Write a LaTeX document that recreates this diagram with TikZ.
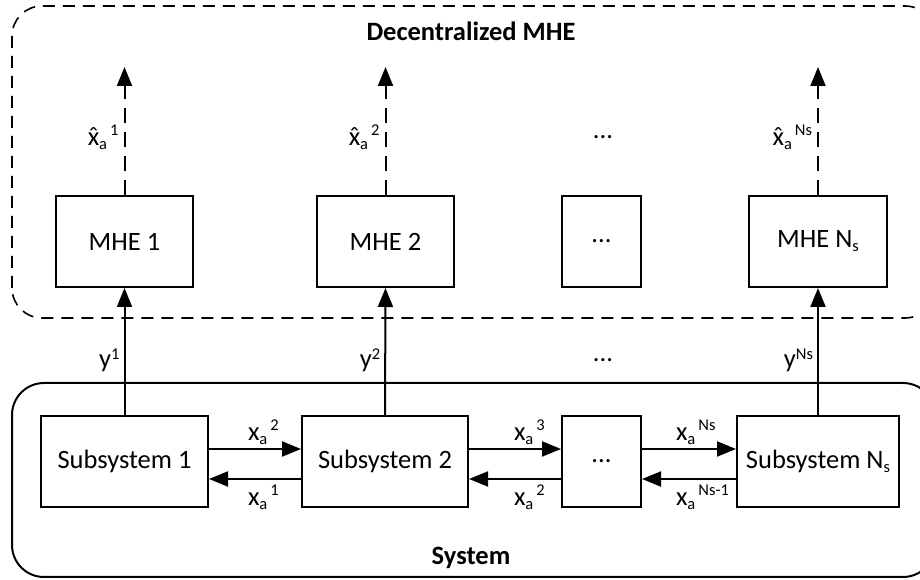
\documentclass[tikz,border=0pt]{standalone}
\usepackage{fontspec}
\setmainfont{Carlito}
\usetikzlibrary{arrows.meta,positioning}

% small lowered / raised text as in the drawing
\newcommand{\lowtxt}[1]{\raisebox{-4pt}{\fontsize{16.5pt}{16.5pt}\selectfont #1}}
\newcommand{\hightxt}[2][10pt]{\raisebox{#1}{\fontsize{16.5pt}{16.5pt}\selectfont #2}}
\newcommand{\xhat}{\ooalign{x\cr\hidewidth ˆ\hidewidth\cr}}
\newcommand{\xa}[1]{x\lowtxt{a}\hspace{3pt}\hightxt{#1}}
\newcommand{\xh}[1]{\xhat\lowtxt{a}\hspace{3pt}\hightxt{#1}}
\newcommand{\yo}[1]{y\hightxt[8pt]{#1}}

\tikzset{
  block/.style={draw,line width=2pt,minimum height=91pt,inner sep=0pt},
  sig/.style={line width=2pt,-{Triangle[length=19pt,width=15pt]}},
  est/.style={sig,dash pattern=on 15pt off 9pt},
  lbl/.style={inner sep=1pt},
  title/.style={font=\fontsize{26.5pt}{30pt}\selectfont\bfseries},
}

\begin{document}
\begin{tikzpicture}[x=1pt,y=1pt,font=\fontsize{26.5pt}{30pt}\selectfont]
  \clip (0,0) rectangle (920,580);
  % frame of the estimators:
  \draw[line width=1.6pt,dash pattern=on 12pt off 8pt,rounded corners=30pt]
    (12,262) rectangle (935,574);
  \node[title] (tmhe) at (471,549) {Decentralized MHE};
  % frame of the plant:
  \draw[line width=2pt,rounded corners=32pt] (12,3) rectangle (935,197);
  \node[title] (tsys) at (471,22) {System};
  % MHE blocks:
  \node[block,minimum width=137pt] (mhe1) at (124.5,338.5) {MHE 1};
  \node[block,minimum width=137pt] (mhe2) at (385.5,338.5) {MHE 2};
  \node[block,minimum width=79pt] (mhed) at (601.5,338.5) {...};
  \node[block,minimum width=138pt] (mhen) at (818,338.5) {MHE N\lowtxt{s}};
  % subsystem blocks:
  \node[block,minimum width=167pt] (sub1) at (124.5,118.5) {Subsystem 1};
  \node[block,minimum width=166pt] (sub2) at (385,118.5) {Subsystem 2};
  \node[block,minimum width=79pt] (subd) at (601.5,118.5) {...};
  \node[block,minimum width=162pt] (subn) at (818,118.5) {Subsystem N\lowtxt{s}};
  % end points of the estimates:
  \coordinate (out1) at (124.5,513);
  \coordinate (out2) at (385.5,513);
  \coordinate (outn) at (818,513);
  % estimates (dashed):
  \draw[est] (mhe1.north) -- (out1) node[pos=0.45,left=4pt,lbl] {\xh{1}};
  \draw[est] (mhe2.north) -- (out2) node[pos=0.45,left=4pt,lbl] {\xh{2}};
  \draw[est] (mhen.north) -- (outn) node[pos=0.45,left=4pt,lbl] {\xh{Ns}};
  \node (dots1) at (603,443) {...};
  % measurements:
  \draw[sig] (sub1.north) -- (mhe1.south) node[pos=0.43,left=3pt,lbl] {\yo{1}};
  \draw[sig] (sub2.north) -- (mhe2.south) node[pos=0.43,left=3pt,lbl] {\yo{2}};
  \draw[sig] (subn.north) -- (mhen.south) node[pos=0.43,left=3pt,lbl] {\yo{Ns}};
  \node (dots2) at (603,220) {...};
  % coupling between neighbours:
  \draw[sig] ([yshift=12.5pt]sub1.east) -- node[pos=0,anchor=south west,xshift=37pt,yshift=2pt,lbl] {\xa{2}} ([yshift=12.5pt]sub2.west);
  \draw[sig] ([yshift=-17.5pt]sub2.west) -- node[pos=1,anchor=north west,xshift=37pt,yshift=-4pt,lbl] {\xa{1}} ([yshift=-17.5pt]sub1.east);
  \draw[sig] ([yshift=12.5pt]sub2.east) -- node[pos=0,anchor=south west,xshift=43pt,yshift=2pt,lbl] {\xa{3}} ([yshift=12.5pt]subd.west);
  \draw[sig] ([yshift=-17.5pt]subd.west) -- node[pos=1,anchor=north west,xshift=43pt,yshift=-4pt,lbl] {\xa{2}} ([yshift=-17.5pt]sub2.east);
  \draw[sig] ([yshift=12.5pt]subd.east) -- node[pos=0,anchor=south west,xshift=32pt,yshift=2pt,lbl] {\xa{Ns}} ([yshift=12.5pt]subn.west);
  \draw[sig] ([yshift=-17.5pt]subn.west) -- node[pos=1,anchor=north west,xshift=32pt,yshift=-4pt,lbl] {\xa{Ns-1}} ([yshift=-17.5pt]subd.east);
\end{tikzpicture}
\end{document}
